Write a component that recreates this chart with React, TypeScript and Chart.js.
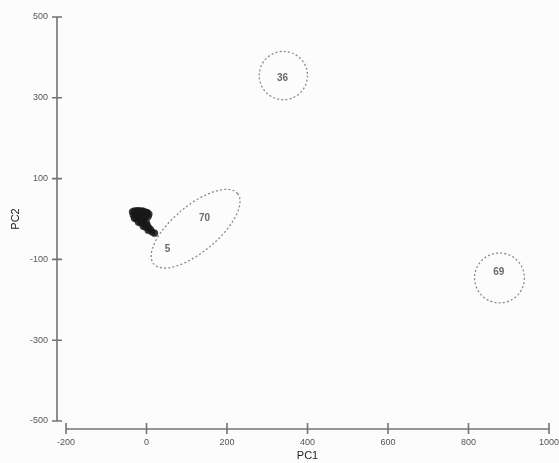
import React, { useEffect, useRef } from "react";
import { Chart, registerables } from "chart.js";

Chart.register(...registerables);

// Axis ticks
const xTicks = [-200, 0, 200, 400, 600, 800, 1000];
const yTicks = [-500, -300, -100, 100, 300, 500];

// Dense cluster of samples near the origin
const clusterX = [-35, -30, -26, -22, -18, -14, -10, -6, -2, 2, 6, -33, -28, -24, -20, -16, -12, -8, -4, 0, 4, -30, -26, -22, -18, -14, -10, -6, -20, -15, -10, -5, 0, -8, -3, 2, 6, 4, 10, 14, 20];
const clusterY = [18, 20, 19, 21, 20, 19, 20, 18, 17, 16, 12, 10, 12, 9, 11, 8, 10, 11, 7, 9, 6, 2, 0, 4, 1, 3, -1, 0, -8, -10, -6, -12, -9, -18, -20, -16, -22, -28, -26, -32, -35];

// Outlying samples drawn as their ID labels
const outlierNames = ["70", "5", "36", "69"];
const outlierX = [144, 52, 338, 875];
const outlierY = [1, -74, 349, -131];

// Dashed confidence ellipses (data units)
const ellipseCx = [122, 340, 877];
const ellipseCy = [-24, 355, -146];
const ellipseA = [136, 60, 62];
const ellipseB = [57, 60, 62];
const ellipseAngle = [40, 0, 0];

const FONT = "'Liberation Sans', Arial, sans-serif";

const bgPlugin = {
  id: "bg",
  beforeDraw(chart: any) {
    const { ctx, width, height } = chart;
    ctx.save();
    ctx.fillStyle = "#fcfcfc";
    ctx.fillRect(0, 0, width, height);
    ctx.restore();
  },
};

const axesPlugin = {
  id: "customAxes",
  afterDraw(chart: any) {
    const { ctx, chartArea } = chart;
    const xs = chart.scales.x;
    const ys = chart.scales.y;
    ctx.save();
    ctx.strokeStyle = "#737373";
    ctx.lineWidth = 1.6;
    // y axis (offset left of plot)
    const ax = chartArea.left - 9;
    ctx.beginPath();
    ctx.moveTo(ax, ys.getPixelForValue(ys.max));
    ctx.lineTo(ax, ys.getPixelForValue(ys.min));
    for (const v of yTicks) {
      const py = ys.getPixelForValue(v);
      ctx.moveTo(ax - 5, py);
      ctx.lineTo(ax + 5, py);
    }
    ctx.stroke();
    // x axis (offset below plot)
    const ay = chartArea.bottom + 8;
    ctx.beginPath();
    ctx.moveTo(xs.getPixelForValue(xs.min), ay);
    ctx.lineTo(xs.getPixelForValue(xs.max), ay);
    for (const v of xTicks) {
      const px = xs.getPixelForValue(v);
      ctx.moveTo(px, ay - 6);
      ctx.lineTo(px, ay + 5);
    }
    ctx.stroke();
    ctx.restore();
  },
};

const ellipsePlugin = {
  id: "ellipses",
  afterDatasetsDraw(chart: any) {
    const { ctx } = chart;
    const xs = chart.scales.x;
    const ys = chart.scales.y;
    ctx.save();
    ctx.strokeStyle = "#8a8a8a";
    ctx.lineWidth = 1.3;
    ctx.setLineDash([2, 2.2]);
    for (let i = 0; i < ellipseCx.length; i++) {
      const cx = xs.getPixelForValue(ellipseCx[i]);
      const cy = ys.getPixelForValue(ellipseCy[i]);
      const rx = Math.abs(xs.getPixelForValue(ellipseCx[i] + ellipseA[i]) - cx);
      const ry = Math.abs(xs.getPixelForValue(ellipseCx[i] + ellipseB[i]) - cx);
      ctx.beginPath();
      ctx.ellipse(cx, cy, rx, ry, (-ellipseAngle[i] * Math.PI) / 180, 0, Math.PI * 2);
      ctx.stroke();
    }
    // outlier labels
    ctx.setLineDash([]);
    const meta = chart.getDatasetMeta(1);
    ctx.fillStyle = "#6a6a6a";
    ctx.font = `bold 10px ${FONT}`;
    ctx.textAlign = "center";
    ctx.textBaseline = "middle";
    meta.data.forEach((pt: any, i: number) => {
      ctx.fillText(outlierNames[i], pt.x, pt.y);
    });
    ctx.restore();
  },
};

export default function App() {
  const ref = useRef<HTMLCanvasElement | null>(null);
  useEffect(() => {
    if (!ref.current) return;
    const chart = new Chart(ref.current, {
      type: "scatter",
      data: {
        datasets: [
          {
            label: "cluster",
            data: clusterX.map((x, i) => ({ x, y: clusterY[i] })),
            pointRadius: 3.6,
            pointBackgroundColor: "rgba(25,25,25,0.85)",
            pointBorderWidth: 0,
          },
          {
            label: "outliers",
            data: outlierX.map((x, i) => ({ x, y: outlierY[i] })),
            pointRadius: 0,
          },
        ],
      },
      plugins: [bgPlugin, axesPlugin, ellipsePlugin],
      options: {
        responsive: false,
        animation: false,
        layout: { padding: { left: 0, right: 10, top: 17, bottom: 0 } },
        plugins: { legend: { display: false }, tooltip: { enabled: false } },
        scales: {
          x: {
            type: "linear",
            min: -200,
            max: 1000,
            afterBuildTicks: (s: any) => {
              s.ticks = xTicks.map((v) => ({ value: v }));
            },
            afterFit: (s: any) => {
              s.height = 42;
              s.paddingLeft = 0;
              s.paddingRight = 0;
            },
            grid: { display: false, drawTicks: false },
            border: { display: false },
            ticks: {
              autoSkip: false,
              maxRotation: 0,
              padding: 16,
              color: "#555",
              font: { family: FONT, size: 9 },
              callback: (v: any) => String(v),
            },
            title: {
              display: true,
              text: "PC1",
              color: "#222",
              font: { family: FONT, size: 11 },
              padding: { top: 0, bottom: 0 },
            },
          },
          y: {
            type: "linear",
            min: -500,
            max: 500,
            afterBuildTicks: (s: any) => {
              s.ticks = yTicks.map((v) => ({ value: v }));
            },
            afterFit: (s: any) => {
              s.width = 66;
              s.paddingTop = 0;
              s.paddingBottom = 0;
            },
            grid: { display: false, drawTicks: false },
            border: { display: false },
            ticks: {
              autoSkip: false,
              padding: 18,
              color: "#555",
              font: { family: FONT, size: 9 },
              callback: (v: any) => String(v),
            },
            title: {
              display: true,
              text: "PC2",
              color: "#222",
              font: { family: FONT, size: 11 },
              padding: { top: 9, bottom: 0 },
            },
          },
        },
      },
    });
    return () => chart.destroy();
  }, []);
  return (
    <div style={{ position: "fixed", left: 0, top: 0, width: 559, height: 463 }}>
      <canvas ref={ref} width={559} height={463} style={{ display: "block" }} />
    </div>
  );
}
